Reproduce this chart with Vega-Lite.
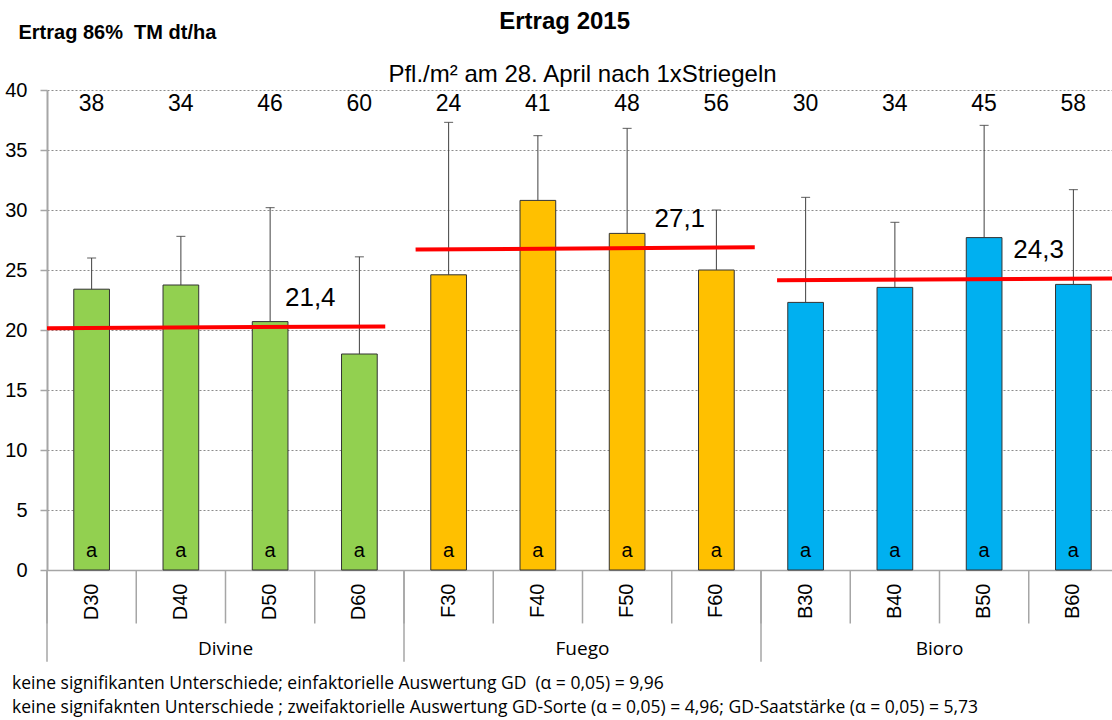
{
  "$schema": "https://vega.github.io/schema/vega-lite/v6.json",
  "width": 1071,
  "height": 480,
  "autosize": {"type": "none"},
  "padding": {"left": 47, "top": 90, "right": 0, "bottom": 150},
  "background": "white",
  "config": {"view": {"stroke": null}, "font": "Liberation Sans"},
  "datasets": {
    "bars": [
      {"cat": "D30", "group": "Divine", "yield": 23.4, "upper": 26.0, "plants": 38, "sig": "a"},
      {"cat": "D40", "group": "Divine", "yield": 23.75, "upper": 27.8, "plants": 34, "sig": "a"},
      {"cat": "D50", "group": "Divine", "yield": 20.7, "upper": 30.2, "plants": 46, "sig": "a"},
      {"cat": "D60", "group": "Divine", "yield": 18.0, "upper": 26.1, "plants": 60, "sig": "a"},
      {"cat": "F30", "group": "Fuego", "yield": 24.6, "upper": 37.3, "plants": 24, "sig": "a"},
      {"cat": "F40", "group": "Fuego", "yield": 30.8, "upper": 36.2, "plants": 41, "sig": "a"},
      {"cat": "F50", "group": "Fuego", "yield": 28.05, "upper": 36.8, "plants": 48, "sig": "a"},
      {"cat": "F60", "group": "Fuego", "yield": 25.0, "upper": 30.0, "plants": 56, "sig": "a"},
      {"cat": "B30", "group": "Bioro", "yield": 22.3, "upper": 31.05, "plants": 30, "sig": "a"},
      {"cat": "B40", "group": "Bioro", "yield": 23.55, "upper": 28.97, "plants": 34, "sig": "a"},
      {"cat": "B50", "group": "Bioro", "yield": 27.7, "upper": 37.05, "plants": 45, "sig": "a"},
      {"cat": "B60", "group": "Bioro", "yield": 23.8, "upper": 31.7, "plants": 58, "sig": "a"}
    ],
    "groups": [{"group": "Divine"}, {"group": "Fuego"}, {"group": "Bioro"}],
    "means": [
      {"group": "Divine", "idx": 0, "val": 20.15, "pt": "start", "label": "21,4"},
      {"group": "Divine", "idx": 3.79, "val": 20.3, "pt": "end", "label": "21,4"},
      {"group": "Fuego", "idx": 4.13, "val": 26.7, "pt": "start", "label": "27,1"},
      {"group": "Fuego", "idx": 7.93, "val": 26.9, "pt": "end", "label": "27,1"},
      {"group": "Bioro", "idx": 8.18, "val": 24.15, "pt": "start", "label": "24,3"},
      {"group": "Bioro", "idx": 11.95, "val": 24.3, "pt": "end", "label": "24,3"}
    ]
  },
  "layer": [
    {
      "data": {"name": "bars"},
      "encoding": {
        "x": {
          "field": "cat",
          "type": "nominal",
          "sort": null,
          "scale": {"type": "band", "paddingInner": 0, "paddingOuter": 0}
        }
      },
      "layer": [
        {
          "mark": {"type": "bar", "width": {"band": 0.4}, "stroke": "#333333", "strokeWidth": 1},
          "encoding": {
            "x": {
              "field": "cat",
              "type": "nominal",
              "sort": null,
              "scale": {"type": "band", "paddingInner": 0, "paddingOuter": 0},
              "axis": {
                "title": null,
                "labelAngle": -90,
                "labelAlign": "right",
                "labelBaseline": "middle",
                "labelFont": "Liberation Sans",
                "labelFontSize": 20,
                "labelColor": "black",
                "labelPadding": 13,
                "ticks": false,
                "grid": false,
                "domainColor": "#a6a6a6",
                "domainWidth": 1.5
              }
            },
            "y": {
              "field": "yield",
              "type": "quantitative",
              "scale": {"domain": [0, 40], "nice": false, "zero": true},
              "axis": {
                "title": "Ertrag 86%\u00a0 TM dt/ha",
                "titleAngle": 0,
                "titleAlign": "left",
                "titleBaseline": "middle",
                "titleX": -29,
                "titleY": -58,
                "titleFont": "Liberation Sans",
                "titleFontSize": 20,
                "titleFontWeight": "bold",
                "titleColor": "black",
                "values": [0, 5, 10, 15, 20, 25, 30, 35, 40],
                "grid": true,
                "gridDash": [2, 2],
                "gridColor": "#8c8c8c",
                "gridWidth": 1,
                "tickSize": 7,
                "tickColor": "#a6a6a6",
                "tickWidth": 1.5,
                "domainColor": "#a6a6a6",
                "domainWidth": 2,
                "labelFont": "Liberation Sans",
                "labelFontSize": 20,
                "labelColor": "black",
                "labelPadding": 13
              }
            },
            "color": {
              "field": "group",
              "type": "nominal",
              "scale": {"domain": ["Divine", "Fuego", "Bioro"], "range": ["#92D050", "#FFC000", "#00B0F0"]},
              "legend": null
            }
          }
        },
        {
          "mark": {"type": "rule", "color": "#404040", "strokeWidth": 1},
          "encoding": {
            "y": {"field": "yield", "type": "quantitative"},
            "y2": {"field": "upper"}
          }
        },
        {
          "mark": {"type": "tick", "color": "#404040", "size": 9, "thickness": 1.2, "orient": "horizontal"},
          "encoding": {
            "y": {"field": "upper", "type": "quantitative"}
          }
        },
        {
          "mark": {"type": "text", "font": "Liberation Sans", "fontSize": 23, "color": "black", "baseline": "alphabetic", "align": "center"},
          "encoding": {
            "y": {"datum": 38.28, "type": "quantitative"},
            "text": {"field": "plants", "type": "quantitative"}
          }
        },
        {
          "mark": {"type": "text", "font": "Liberation Sans", "fontSize": 20, "color": "black", "baseline": "alphabetic", "align": "center"},
          "encoding": {
            "y": {"datum": 1.08, "type": "quantitative"},
            "text": {"field": "sig", "type": "nominal"}
          }
        },
        {
          "mark": {"type": "rule", "color": "#a6a6a6", "strokeWidth": 1.5},
          "encoding": {
            "x": {
              "field": "cat",
              "type": "nominal",
              "sort": null,
              "bandPosition": 0,
              "scale": {"type": "band", "paddingInner": 0, "paddingOuter": 0}
            },
            "y": {"datum": 0, "type": "quantitative"},
            "y2": {"datum": -4.45}
          }
        }
      ]
    },
    {
      "data": {"name": "groups"},
      "encoding": {
        "x": {
          "field": "group",
          "type": "nominal",
          "sort": ["Divine", "Fuego", "Bioro"],
          "scale": {"type": "band", "paddingInner": 0, "paddingOuter": 0},
          "axis": null
        }
      },
      "layer": [
        {
          "mark": {"type": "text", "font": "Open Sans", "fontSize": 19, "color": "black", "baseline": "middle", "align": "center"},
          "encoding": {
            "y": {"datum": -6.6, "type": "quantitative"},
            "text": {"field": "group", "type": "nominal"}
          }
        },
        {
          "mark": {"type": "rule", "color": "#a6a6a6", "strokeWidth": 1.5},
          "encoding": {
            "x": {
              "field": "group",
              "type": "nominal",
              "sort": ["Divine", "Fuego", "Bioro"],
              "bandPosition": 0,
              "scale": {"type": "band", "paddingInner": 0, "paddingOuter": 0},
              "axis": null
            },
            "y": {"datum": 0, "type": "quantitative"},
            "y2": {"datum": -7.64}
          }
        }
      ]
    },
    {
      "data": {"name": "means"},
      "encoding": {
        "x": {
          "field": "idx",
          "type": "quantitative",
          "scale": {"domain": [0, 12], "nice": false, "zero": false},
          "axis": null
        }
      },
      "layer": [
        {
          "mark": {"type": "line", "color": "#FF0000", "strokeWidth": 4},
          "encoding": {
            "y": {"field": "val", "type": "quantitative"},
            "detail": {"field": "group", "type": "nominal"}
          }
        },
        {
          "transform": [{"filter": "datum.pt === 'end'"}],
          "mark": {"type": "text", "font": "Liberation Sans", "fontSize": 26, "color": "black", "baseline": "middle", "align": "center", "dx": -75, "dy": -28},
          "encoding": {
            "y": {"field": "val", "type": "quantitative"},
            "text": {"field": "label", "type": "nominal"}
          }
        },
        {
          "transform": [{"filter": "datum.pt === 'start' && datum.group === 'Divine'"}],
          "mark": {
            "type": "text",
            "font": "Liberation Sans",
            "fontSize": 24,
            "fontWeight": "bold",
            "color": "black",
            "align": "center",
            "baseline": "middle",
            "text": "Ertrag 2015"
          },
          "encoding": {
            "x": {"datum": 5.8, "type": "quantitative"},
            "y": {"datum": 45.67, "type": "quantitative"}
          }
        },
        {
          "transform": [{"filter": "datum.pt === 'start' && datum.group === 'Divine'"}],
          "mark": {
            "type": "text",
            "font": "Liberation Sans",
            "fontSize": 24,
            "color": "black",
            "align": "center",
            "baseline": "middle",
            "text": "Pfl./m² am 28. April nach 1xStriegeln"
          },
          "encoding": {
            "x": {"datum": 6, "type": "quantitative"},
            "y": {"datum": 41.25, "type": "quantitative"}
          }
        },
        {
          "transform": [{"filter": "datum.pt === 'start' && datum.group === 'Divine'"}],
          "mark": {
            "type": "text",
            "font": "Open Sans",
            "fontSize": 17.5,
            "color": "black",
            "align": "left",
            "baseline": "middle",
            "lineHeight": 24,
            "text": [
              "keine signifikanten Unterschiede; einfaktorielle Auswertung GD\u00a0 (α = 0,05) = 9,96",
              "keine signifaknten Unterschiede ; zweifaktorielle Auswertung GD-Sorte (α = 0,05) = 4,96; GD-Saatstärke (α = 0,05) = 5,73"
            ]
          },
          "encoding": {
            "x": {"datum": -0.392, "type": "quantitative"},
            "y": {"datum": -9.5, "type": "quantitative"}
          }
        }
      ]
    }
  ],
  "resolve": {"scale": {"x": "independent"}, "axis": {"x": "independent"}}
}
